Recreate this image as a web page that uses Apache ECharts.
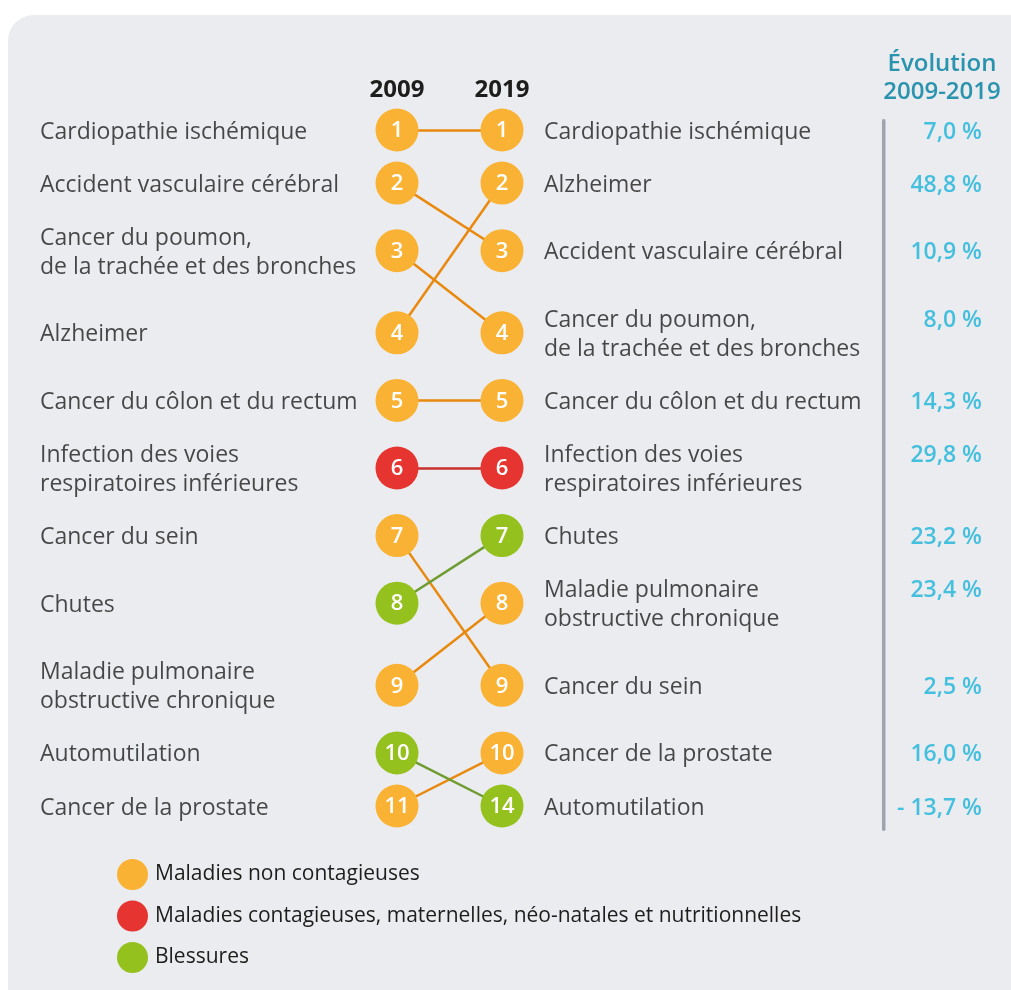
<!DOCTYPE html>
<html><head><meta charset="utf-8">
<script src="https://cdn.jsdelivr.net/npm/echarts@6/dist/echarts.min.js"></script>
<style>html,body{margin:0;padding:0;background:#fff}#c{width:1011px;height:990px}</style>
</head><body><div id="c"></div>
<script>
// ---------- DATA ----------
const years = ['2009', '2019'];
const causes2009 = [
  'Cardiopathie ischémique',
  'Accident vasculaire cérébral',
  'Cancer du poumon,\nde la trachée et des bronches',
  'Alzheimer',
  'Cancer du côlon et du rectum',
  'Infection des voies\nrespiratoires inférieures',
  'Cancer du sein',
  'Chutes',
  'Maladie pulmonaire\nobstructive chronique',
  'Automutilation',
  'Cancer de la prostate'
];
const ranks2009 = [1, 2, 3, 4, 5, 6, 7, 8, 9, 10, 11];
const causes2019 = [
  'Cardiopathie ischémique',
  'Alzheimer',
  'Accident vasculaire cérébral',
  'Cancer du poumon,\nde la trachée et des bronches',
  'Cancer du côlon et du rectum',
  'Infection des voies\nrespiratoires inférieures',
  'Chutes',
  'Maladie pulmonaire\nobstructive chronique',
  'Cancer du sein',
  'Cancer de la prostate',
  'Automutilation'
];
const ranks2019 = [1, 2, 3, 4, 5, 6, 7, 8, 9, 10, 14];
const evolution2019 = ['7,0 %', '48,8 %', '10,9 %', '8,0 %', '14,3 %', '29,8 %', '23,2 %', '23,4 %', '2,5 %', '16,0 %', '- 13,7 %'];
const groupNames = [
  'Maladies non contagieuses',
  'Maladies contagieuses, maternelles, néo-natales et nutritionnelles',
  'Blessures'
];
// group index of each 2009 cause
const group2009 = [0, 0, 0, 0, 0, 1, 0, 2, 0, 2, 0];

// ---------- STYLE / LAYOUT ----------
const dotColors = ['#f9b233', '#e63430', '#95c11f'];
const lineColors = ['#e8890e', '#c8302c', '#6e9c30'];
const FONT = 'Open Sans';
const TEXT = '#1d1d1b';
const LINE_H = 29;          // text line height (px)
const BASE_GAP = 53 / 29;   // gap between single-line rows, in text lines
const COL_LEFT_TEXT = -3.4; // columns in x-axis units (0 = 2009, 1 = 2019)
const COL_RIGHT_TEXT = 1.4;
const COL_EVOL = 5.571;

const nLines = s => s.split('\n').length;
const rowH = causes2009.map((c, i) => Math.max(nLines(c), nLines(causes2019[i])));
const pos = [0];
for (let i = 1; i < rowH.length; i++) {
  pos.push(pos[i - 1] + BASE_GAP + (rowH[i - 1] - 1) / 2 + (rowH[i] - 1) / 2);
}

const series = [];
// connecting lines
const linesData = [[], [], []];
causes2009.forEach((c, i) => {
  const j = causes2019.indexOf(c);
  linesData[group2009[i]].push({ coords: [[0, pos[i]], [1, pos[j]]] });
});
linesData.forEach((d, g) => {
  series.push({
    type: 'lines', coordinateSystem: 'cartesian2d', silent: true, z: 1,
    lineStyle: { color: lineColors[g], width: 2.5, opacity: 1 },
    data: d
  });
});
// dots per group
groupNames.forEach((name, g) => {
  const data = [];
  causes2009.forEach((c, i) => {
    if (group2009[i] !== g) return;
    const j = causes2019.indexOf(c);
    data.push({ value: [0, pos[i]], rank: ranks2009[i] });
    data.push({ value: [1, pos[j]], rank: ranks2019[j] });
  });
  series.push({
    name, type: 'scatter', symbol: 'circle', symbolSize: 43, z: 3, clip: false,
    itemStyle: { color: dotColors[g], opacity: 1 },
    label: {
      show: true, position: 'inside', color: '#fff', fontFamily: FONT,
      fontSize: 22, fontWeight: 600, offset: [0, 1],
      formatter: p => p.data.rank
    },
    data
  });
});
const textLabel = {
  show: true, fontFamily: FONT, fontSize: 23, color: TEXT, lineHeight: LINE_H, distance: 0,
  offset: [0, 2]
};
series.push({
  type: 'scatter', symbolSize: 0, silent: true, clip: false,
  label: Object.assign({}, textLabel, { position: 'right', formatter: '{b}' }),
  data: causes2009.map((c, i) => ({ name: c, value: [COL_LEFT_TEXT, pos[i]] }))
});
series.push({
  type: 'scatter', symbolSize: 0, silent: true, clip: false,
  label: Object.assign({}, textLabel, { position: 'right', formatter: '{b}' }),
  data: causes2019.map((c, i) => ({ name: c, value: [COL_RIGHT_TEXT, pos[i]] }))
});
series.push({
  type: 'scatter', symbolSize: 0, silent: true, clip: false,
  label: Object.assign({}, textLabel, {
    position: 'left', color: '#1bb4da', fontWeight: 600, fontSize: 23,
    formatter: p => p.name
  }),
  data: evolution2019.map((e, i) => ({
    name: e + '\n'.repeat(nLines(causes2019[i]) - 1),
    value: [COL_EVOL, pos[i]]
  }))
});

const chart = echarts.init(document.getElementById('c'), null, { renderer: 'canvas' });
chart.setOption({
  backgroundColor: '#ffffff',
  animation: false,
  graphic: [
    { type: 'rect', z: -10, shape: { x: 8, y: 15, width: 1040, height: 1010, r: 26 }, style: { fill: '#ebecf0' } },
    { type: 'rect', z: -5, shape: { x: 882, y: 119, width: 3.5, height: 712, r: 1.7 }, style: { fill: '#9ea3ad' } }
  ],
  title: {
    text: 'Évolution\n2009-2019', left: 937, top: 45, textAlign: 'center',
    textStyle: { fontFamily: FONT, fontSize: 24, fontWeight: 600, color: '#2a93ae', lineHeight: 28 }
  },
  legend: {
    data: groupNames, orient: 'vertical', left: 112, top: 854, icon: 'circle',
    itemWidth: 31, itemHeight: 31, itemGap: 10.5, selectedMode: false,
    textStyle: { fontFamily: FONT, fontSize: 21, color: TEXT, padding: [0, 0, 0, 2] }
  },
  grid: { left: 397, width: 105, top: 130, height: 676 },
  xAxis: {
    type: 'value', min: 0, max: 1, interval: 1, position: 'top',
    axisLine: { show: false }, axisTick: { show: false }, splitLine: { show: false },
    axisLabel: {
      margin: 28, fontFamily: FONT, fontSize: 24, fontWeight: 700, color: TEXT,
      formatter: v => years[v]
    }
  },
  yAxis: { type: 'value', inverse: true, min: 0, max: pos[pos.length - 1], show: false },
  series
});
</script></body></html>
